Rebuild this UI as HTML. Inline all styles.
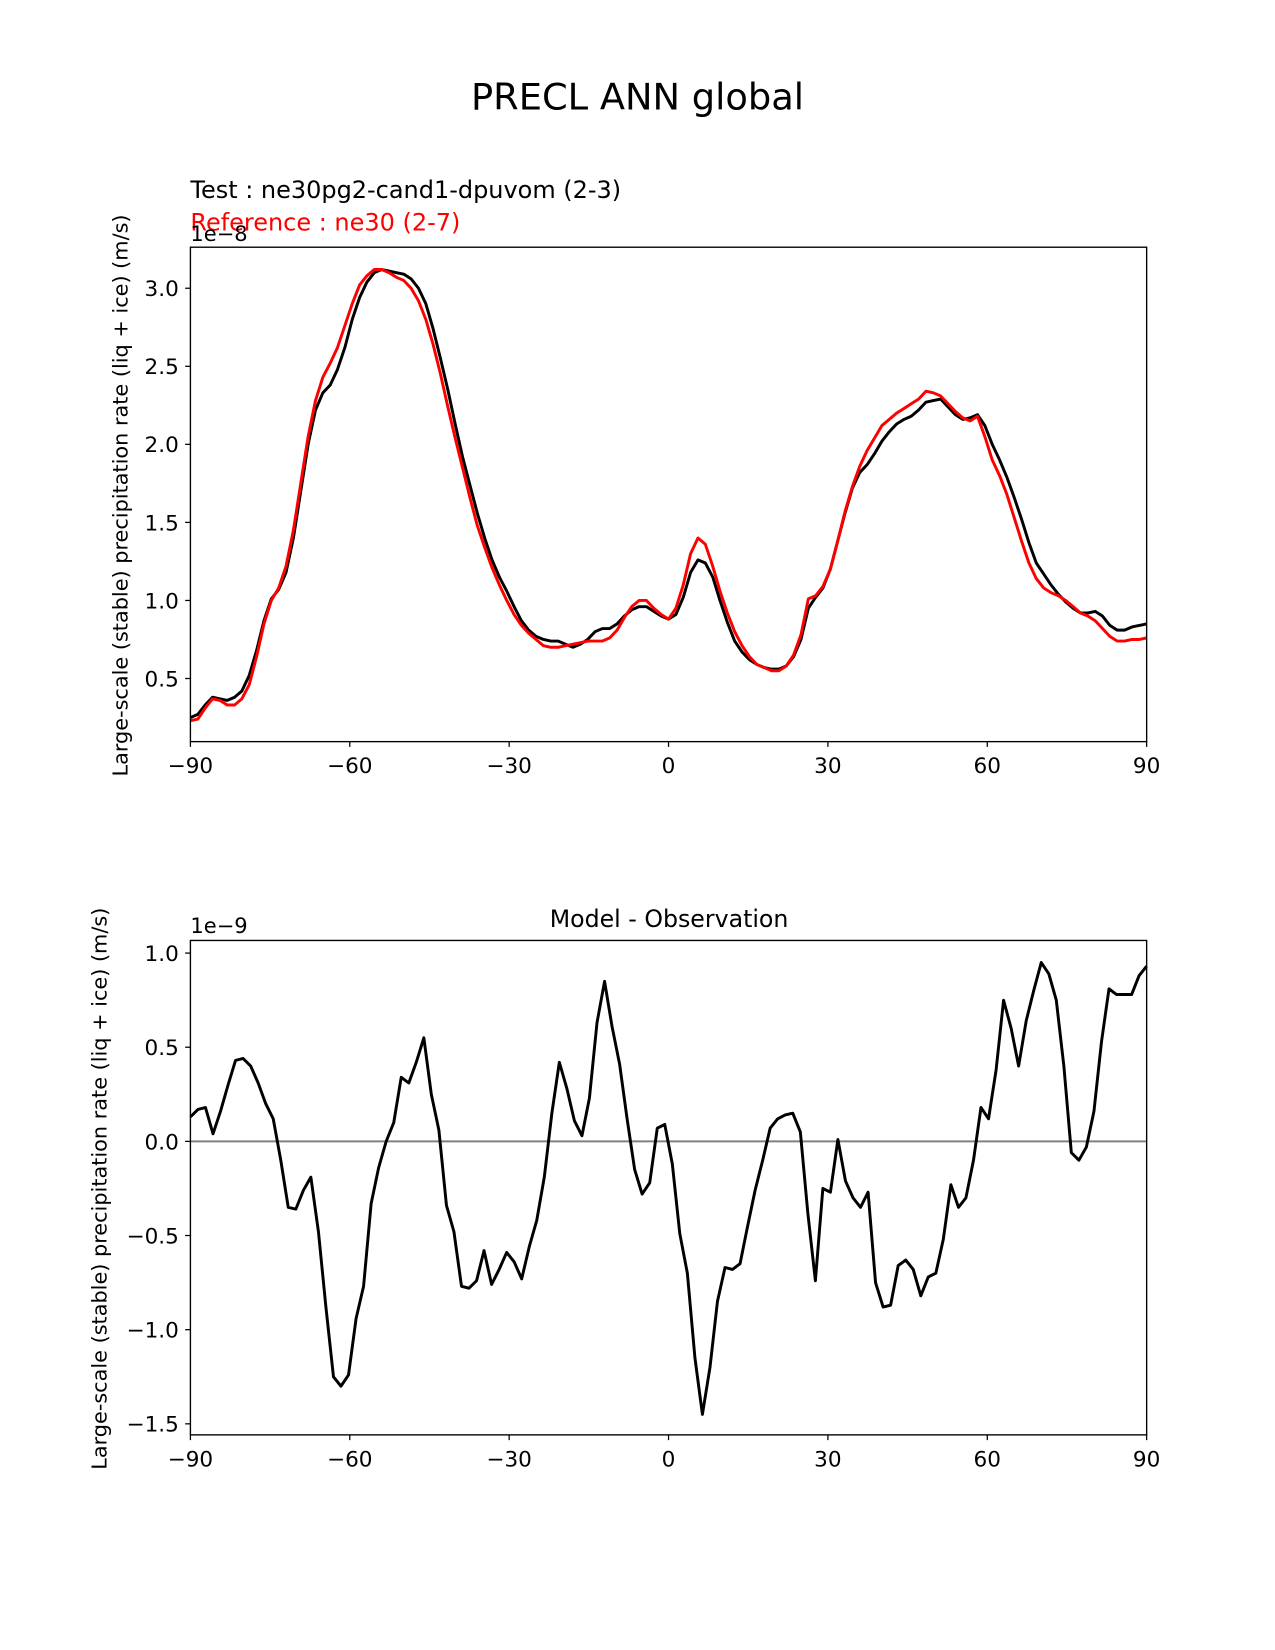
<!DOCTYPE html>
<html><head><meta charset="utf-8"><style>
html,body{margin:0;padding:0;background:#fff;}
svg{display:block;font-family:"DejaVu Sans","Liberation Sans",sans-serif;}
</style></head><body>
<svg id="fig" width="1275" height="1650" viewBox="0 0 1212 1568.5" xmlns="http://www.w3.org/2000/svg">
<rect width="1212" height="1568.5" fill="#fff"/>
<text x="606" y="104" font-size="35" text-anchor="middle">PRECL ANN global</text>
<text x="181" y="188" font-size="22.8">Test : ne30pg2-cand1-dpuvom (2-3)</text>
<text x="181" y="219" font-size="22.8" fill="#ff0000">Reference : ne30 (2-7)</text>
<text x="181" y="229" font-size="20">1e−8</text>
<text transform="translate(121,471) rotate(-90)" font-size="19.8" text-anchor="middle">Large-scale (stable) precipitation rate (liq + ice) (m/s)</text>
<text x="636" y="881" font-size="22.5" text-anchor="middle">Model - Observation</text>
<text x="181" y="887" font-size="20">1e−9</text>
<text transform="translate(101,1130) rotate(-90)" font-size="19.8" text-anchor="middle">Large-scale (stable) precipitation rate (liq + ice) (m/s)</text>
<g id="top"></g><g id="bot"></g>
</svg>
<script>
const xTicks=[-90,-60,-30,0,30,60,90];
const xTickLabels=["−90","−60","−30","0","30","60","90"];
const topYTicks=[0.5,1.0,1.5,2.0,2.5,3.0];
const topYTickLabels=["0.5","1.0","1.5","2.0","2.5","3.0"];
const botYTicks=[-1.5,-1.0,-0.5,0.0,0.5,1.0];
const botYTickLabels=["−1.5","−1.0","−0.5","0.0","0.5","1.0"];
const testSeries=[0.25,0.27,0.33,0.38,0.37,0.36,0.38,0.42,0.52,0.68,0.87,1.01,1.07,1.18,1.40,1.70,2.00,2.22,2.33,2.38,2.48,2.62,2.80,2.94,3.04,3.10,3.12,3.11,3.10,3.09,3.06,3.00,2.90,2.74,2.55,2.35,2.13,1.92,1.74,1.56,1.40,1.26,1.15,1.06,0.96,0.87,0.81,0.77,0.75,0.74,0.74,0.72,0.70,0.72,0.75,0.80,0.82,0.82,0.85,0.90,0.94,0.96,0.96,0.93,0.90,0.88,0.91,1.02,1.18,1.26,1.24,1.15,1.00,0.86,0.74,0.67,0.62,0.59,0.57,0.56,0.56,0.58,0.64,0.75,0.95,1.02,1.08,1.20,1.38,1.56,1.72,1.82,1.87,1.94,2.02,2.08,2.13,2.16,2.18,2.22,2.27,2.28,2.29,2.24,2.19,2.16,2.17,2.19,2.12,2.00,1.90,1.79,1.66,1.52,1.37,1.24,1.17,1.10,1.04,0.99,0.95,0.92,0.92,0.93,0.90,0.84,0.81,0.81,0.83,0.84,0.85];
const refSeries=[0.23,0.24,0.31,0.37,0.36,0.33,0.33,0.37,0.46,0.64,0.85,1.00,1.08,1.22,1.45,1.75,2.05,2.28,2.43,2.52,2.62,2.76,2.90,3.02,3.08,3.12,3.12,3.10,3.07,3.05,3.00,2.92,2.80,2.64,2.45,2.24,2.04,1.85,1.66,1.48,1.34,1.21,1.10,1.00,0.91,0.84,0.79,0.75,0.71,0.70,0.70,0.71,0.72,0.73,0.74,0.74,0.74,0.76,0.81,0.89,0.96,1.00,1.00,0.95,0.91,0.88,0.95,1.10,1.30,1.40,1.36,1.22,1.06,0.92,0.80,0.71,0.64,0.59,0.57,0.55,0.55,0.58,0.65,0.78,1.01,1.03,1.09,1.20,1.38,1.57,1.73,1.86,1.96,2.04,2.12,2.16,2.20,2.23,2.26,2.29,2.34,2.33,2.31,2.26,2.21,2.17,2.15,2.18,2.05,1.90,1.80,1.68,1.53,1.38,1.24,1.14,1.08,1.05,1.03,1.00,0.96,0.92,0.90,0.87,0.82,0.77,0.74,0.74,0.75,0.75,0.76];
const diffSeries=[0.13,0.17,0.18,0.04,0.16,0.30,0.43,0.44,0.40,0.31,0.20,0.12,-0.10,-0.35,-0.36,-0.26,-0.19,-0.48,-0.88,-1.25,-1.30,-1.24,-0.94,-0.77,-0.33,-0.14,0.00,0.10,0.34,0.31,0.42,0.55,0.25,0.06,-0.34,-0.48,-0.77,-0.78,-0.74,-0.58,-0.76,-0.68,-0.59,-0.64,-0.73,-0.56,-0.42,-0.19,0.15,0.42,0.28,0.11,0.03,0.23,0.63,0.85,0.61,0.41,0.12,-0.15,-0.28,-0.22,0.07,0.09,-0.12,-0.49,-0.70,-1.15,-1.45,-1.20,-0.85,-0.67,-0.68,-0.65,-0.45,-0.26,-0.10,0.07,0.12,0.14,0.15,0.05,-0.38,-0.74,-0.25,-0.27,0.01,-0.21,-0.30,-0.35,-0.27,-0.75,-0.88,-0.87,-0.66,-0.63,-0.68,-0.82,-0.72,-0.70,-0.52,-0.23,-0.35,-0.30,-0.10,0.18,0.12,0.38,0.75,0.60,0.40,0.64,0.80,0.95,0.89,0.75,0.40,-0.06,-0.10,-0.03,0.16,0.53,0.81,0.78,0.78,0.78,0.88,0.93];

const NS="http://www.w3.org/2000/svg";
function mk(parent,tag,attrs){const e=document.createElementNS(NS,tag);for(const k in attrs)e.setAttribute(k,attrs[k]);parent.appendChild(e);return e;}
function lats(n){const a=[];for(let i=0;i<n;i++)a.push(-90+i*180/(n-1));return a;}

function drawPanel(g,cfg){
  const L=181,R=1090,T=cfg.top,B=cfg.bottom;
  const xs=v=>L+(v+90)/180*(R-L);
  const ys=v=>cfg.y0+(v-cfg.v0)*cfg.k;
  if(cfg.zero){const z=mk(g,'line',{x1:L,x2:R,y1:ys(0),y2:ys(0),stroke:'#808080','stroke-width':2});
    }
  cfg.series.forEach(s=>{
    const la=lats(s.data.length);
    const p=mk(g,'polyline',{points:s.data.map((v,i)=>xs(la[i]).toFixed(1)+','+ys(v).toFixed(1)).join(' '),fill:'none',stroke:s.color,'stroke-width':2.8,'stroke-linejoin':'round'});
    
    
  });
  const fr=mk(g,'rect',{x:L,y:T,width:R-L,height:B-T,fill:'none',stroke:'#000','stroke-width':1.3});
  
  
  xTicks.forEach((t,i)=>{
    mk(g,'line',{x1:xs(t),x2:xs(t),y1:B,y2:B+5,stroke:'#000','stroke-width':1.2});
    const tx=mk(g,'text',{x:xs(t),y:B+30,'font-size':20.5,'text-anchor':'middle'});tx.textContent=xTickLabels[i];
    
    
  });
  cfg.yt.forEach((t,i)=>{
    mk(g,'line',{x1:L-5,x2:L,y1:ys(t),y2:ys(t),stroke:'#000','stroke-width':1.2});
    const tx=mk(g,'text',{x:L-11,y:ys(t)+7.5,'font-size':20.5,'text-anchor':'end'});tx.textContent=cfg.ytl[i];
    
    
  });
}
drawPanel(document.getElementById('top'),{prefix:'top',top:235,bottom:705,y0:274,v0:3.0,k:-148.4,yt:topYTicks,ytl:topYTickLabels,
  series:[{data:testSeries,color:'#000',name:'test-line'},{data:refSeries,color:'#ff0000',name:'reference-line'}]});
drawPanel(document.getElementById('bot'),{prefix:'bottom',top:894,bottom:1364,y0:1085,v0:0,k:-179,yt:botYTicks,ytl:botYTickLabels,zero:true,
  series:[{data:diffSeries,color:'#000',name:'difference-line'}]});
</script>
</body></html>
